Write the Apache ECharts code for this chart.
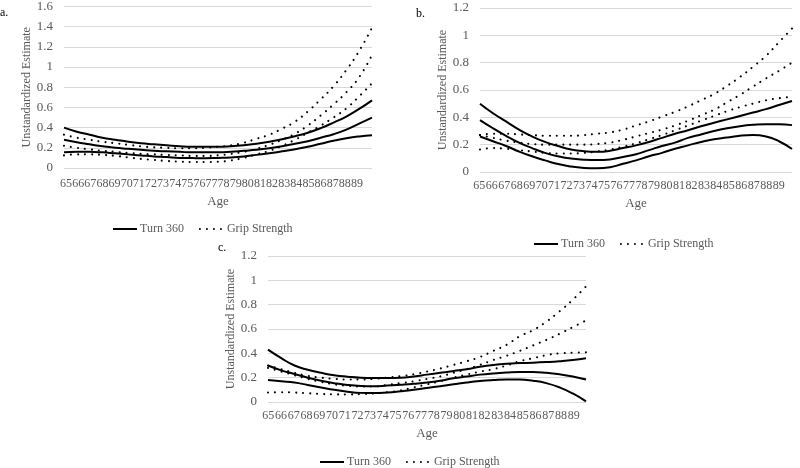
<!DOCTYPE html>
<html><head><meta charset="utf-8">
<script src="https://cdn.jsdelivr.net/npm/echarts@6/dist/echarts.min.js"></script>
<style>html,body{margin:0;padding:0;background:#fff}#c{width:800px;height:468px}</style>
</head><body><div id="c"></div><script>
const ages = ['65','66','67','68','69','70','71','72','73','74','75','76','77','78','79','80','81','82','83','84','85','86','87','88','89'];

// Panel a
const aTurnUpper = [0.40,0.36,0.33,0.30,0.28,0.26,0.245,0.235,0.225,0.215,0.21,0.21,0.21,0.215,0.225,0.24,0.26,0.285,0.315,0.35,0.395,0.45,0.51,0.585,0.67];
const aTurnEst   = [0.28,0.255,0.235,0.215,0.20,0.19,0.18,0.17,0.165,0.16,0.155,0.155,0.155,0.16,0.17,0.18,0.195,0.215,0.24,0.265,0.30,0.335,0.38,0.44,0.50];
const aTurnLower = [0.155,0.16,0.16,0.155,0.145,0.135,0.125,0.115,0.108,0.10,0.098,0.097,0.10,0.105,0.115,0.13,0.145,0.165,0.185,0.21,0.24,0.27,0.295,0.313,0.325];
const aGripUpper = [0.33,0.30,0.28,0.26,0.245,0.23,0.215,0.205,0.20,0.195,0.195,0.20,0.21,0.225,0.25,0.29,0.33,0.39,0.46,0.56,0.68,0.81,0.97,1.16,1.39];
const aGripEst   = [0.22,0.20,0.185,0.17,0.16,0.15,0.14,0.135,0.13,0.125,0.12,0.12,0.125,0.14,0.16,0.19,0.23,0.28,0.34,0.42,0.52,0.63,0.75,0.90,1.12];
const aGripLower = [0.125,0.135,0.135,0.13,0.12,0.105,0.09,0.08,0.07,0.063,0.06,0.06,0.062,0.075,0.10,0.135,0.17,0.22,0.28,0.35,0.42,0.50,0.59,0.71,0.84];

// Panel b
const bTurnUpper = [0.50,0.43,0.37,0.31,0.26,0.22,0.19,0.165,0.152,0.148,0.155,0.175,0.195,0.22,0.25,0.28,0.305,0.335,0.36,0.385,0.41,0.435,0.46,0.49,0.52];
const bTurnEst   = [0.38,0.32,0.265,0.215,0.175,0.14,0.115,0.098,0.09,0.087,0.092,0.11,0.13,0.16,0.19,0.215,0.25,0.275,0.30,0.32,0.335,0.345,0.35,0.35,0.343];
const bTurnLower = [0.26,0.225,0.19,0.15,0.115,0.085,0.058,0.04,0.03,0.027,0.035,0.06,0.085,0.115,0.14,0.17,0.195,0.22,0.24,0.252,0.265,0.27,0.26,0.225,0.168];
const bGripUpper = [0.27,0.28,0.28,0.275,0.27,0.265,0.265,0.265,0.27,0.28,0.29,0.31,0.34,0.37,0.405,0.44,0.48,0.525,0.57,0.63,0.695,0.77,0.85,0.95,1.05];
const bGripEst   = [0.27,0.25,0.23,0.215,0.205,0.20,0.20,0.20,0.20,0.205,0.215,0.235,0.26,0.285,0.31,0.34,0.375,0.415,0.455,0.51,0.565,0.625,0.685,0.74,0.80];
const bGripLower = [0.165,0.175,0.17,0.16,0.15,0.14,0.135,0.135,0.14,0.15,0.165,0.185,0.21,0.24,0.27,0.305,0.34,0.375,0.41,0.445,0.475,0.50,0.525,0.54,0.55];

// Panel c
const cTurnUpper = [0.43,0.36,0.30,0.265,0.24,0.22,0.208,0.20,0.198,0.198,0.20,0.21,0.225,0.24,0.255,0.27,0.29,0.305,0.315,0.32,0.323,0.328,0.335,0.345,0.36];
const cTurnEst   = [0.30,0.26,0.23,0.20,0.175,0.155,0.14,0.132,0.13,0.135,0.142,0.15,0.16,0.175,0.195,0.21,0.225,0.235,0.242,0.246,0.246,0.24,0.228,0.21,0.185];
const cTurnLower = [0.18,0.17,0.16,0.14,0.12,0.10,0.085,0.075,0.073,0.078,0.088,0.10,0.115,0.13,0.145,0.16,0.172,0.18,0.185,0.185,0.175,0.155,0.12,0.07,0.005];
const cGripUpper = [0.30,0.27,0.24,0.215,0.20,0.19,0.185,0.185,0.19,0.20,0.212,0.228,0.25,0.275,0.305,0.335,0.37,0.42,0.47,0.54,0.59,0.66,0.745,0.84,0.95];
const cGripEst   = [0.28,0.25,0.22,0.19,0.165,0.145,0.133,0.127,0.128,0.14,0.155,0.17,0.19,0.21,0.24,0.27,0.305,0.345,0.38,0.42,0.465,0.51,0.56,0.615,0.67];
const cGripLower = [0.078,0.08,0.078,0.072,0.066,0.063,0.062,0.065,0.07,0.08,0.095,0.12,0.145,0.17,0.20,0.225,0.25,0.27,0.30,0.335,0.36,0.385,0.40,0.405,0.408];

const panelLetters = ['a.','b.','c.'];
const yMaxes = [1.6, 1.2, 1.2];
const seriesNames = ['Turn 360','Grip Strength'];
const xTitle = 'Age';
const yTitle = 'Unstandardized Estimate';

const FONT = 'Liberation Serif';
const GRAY = '#595959';

const panels = [
  {grid:{left:64,top:4,width:308,height:164}, lab:{left:60,width:303}, labMargin:10, xGap:27, yGap:24, legend:{left:112,top:223}, letter:{left:0,top:7},
   turn:[aTurnUpper,aTurnEst,aTurnLower], grip:[aGripUpper,aGripEst,aGripLower]},
  {grid:{left:480,top:8,width:312,height:164}, lab:{left:473,width:312}, labMargin:8, xGap:25, yGap:26, legend:{left:533,top:238}, letter:{left:416,top:8},
   turn:[bTurnUpper,bTurnEst,bTurnLower], grip:[bGripUpper,bGripEst,bGripLower]},
  {grid:{left:268,top:256,width:318,height:146}, lab:{left:262,width:318}, labMargin:8, xGap:25, yGap:29, legend:{left:319,top:456}, letter:{left:218,top:242},
   turn:[cTurnUpper,cTurnEst,cTurnLower], grip:[cGripUpper,cGripEst,cGripLower]}
];

const dotStyle = {color:'#000', width:2.1, type:[0.01,7], cap:'round'};
const solidStyle = {color:'#000', width:2, type:'solid'};

const grid=[], xAxis=[], yAxis=[], series=[], legend=[], graphic=[];
panels.forEach((p,i)=>{
  grid.push(Object.assign({containLabel:false}, p.grid));
  xAxis.push({type:'category', gridIndex:i, data:ages, boundaryGap:false,
    axisLine:{show:false}, axisTick:{show:false}, axisLabel:{show:false},
    name:xTitle, nameLocation:'middle', nameGap:p.xGap,
    nameTextStyle:{fontFamily:FONT, fontSize:13, color:GRAY}});
  yAxis.push({type:'value', gridIndex:i, min:0, max:yMaxes[i], interval:0.2,
    axisLine:{show:false}, axisTick:{show:false},
    axisLabel:{fontFamily:FONT, fontSize:13, color:GRAY, margin:11},
    splitLine:{lineStyle:{color:'#d9d9d9', width:1}},
    name:yTitle, nameLocation:'middle', nameGap:p.yGap,
    nameTextStyle:{fontFamily:FONT, fontSize:12, color:GRAY}});
  p.turn.forEach(d=>series.push({type:'line', name:seriesNames[0], xAxisIndex:i, yAxisIndex:i, data:d,
    smooth:true, symbol:'none', lineStyle:solidStyle, itemStyle:{color:'#000'}}));
  p.grip.forEach(d=>series.push({type:'line', name:seriesNames[1], xAxisIndex:i, yAxisIndex:i, data:d,
    smooth:true, symbol:'none', lineStyle:dotStyle, itemStyle:{color:'#000'}}));
  legend.push({data:seriesNames, left:p.legend.left, top:p.legend.top, padding:0, itemWidth:24, itemHeight:14, itemGap:15,
    selectedMode:false, itemStyle:{opacity:0},
    textStyle:{fontFamily:FONT, fontSize:12, color:GRAY, padding:[0,0,0,-2]}});
  graphic.push({type:'text', left:p.letter.left, top:p.letter.top,
    style:{text:panelLetters[i], fontFamily:FONT, fontSize:12, fill:'#000'}});
});
// label-only grids for the crowded Excel-style age labels
panels.forEach((p,i)=>{
  const gi = grid.length;
  grid.push({left:p.lab.left, width:p.lab.width, top:p.grid.top, height:p.grid.height});
  xAxis.push({type:'category', gridIndex:gi, data:ages, boundaryGap:true,
    axisLine:{show:false}, axisTick:{show:false}, splitLine:{show:false},
    axisLabel:{interval:0, fontFamily:FONT, fontSize:12, color:GRAY, margin:p.labMargin}});
  yAxis.push({type:'value', gridIndex:gi, show:false, min:0, max:1});
});

const chart = echarts.init(document.getElementById('c'), null, {renderer:'canvas'});
chart.setOption({animation:false, backgroundColor:'#fff', grid, xAxis, yAxis, series, legend, graphic});
</script></body></html>
